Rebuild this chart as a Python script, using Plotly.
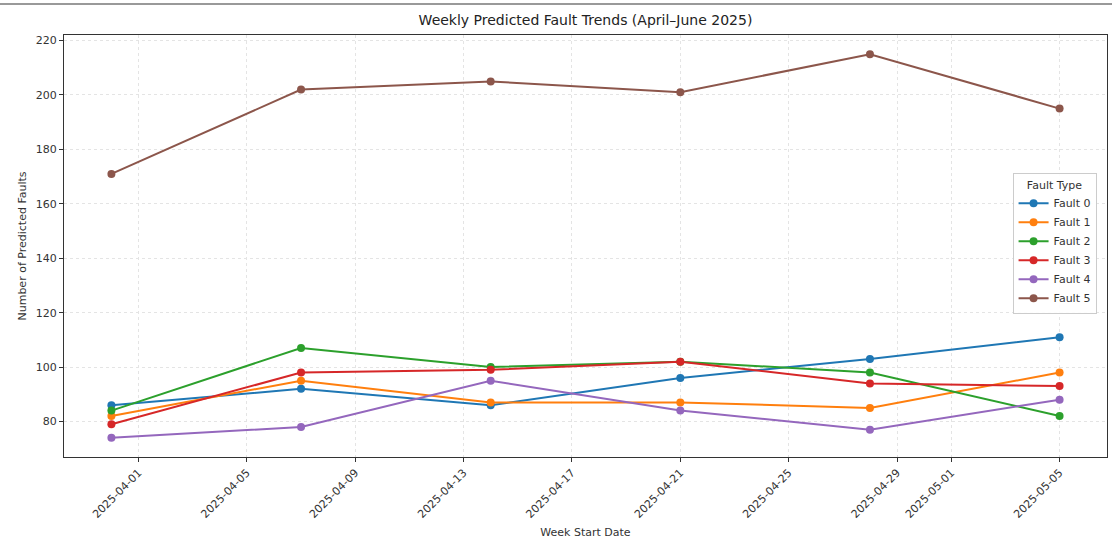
import plotly.graph_objects as go

weeks = ["2025-03-31", "2025-04-07", "2025-04-14", "2025-04-21", "2025-04-28", "2025-05-05"]
fault_names = ["Fault 0", "Fault 1", "Fault 2", "Fault 3", "Fault 4", "Fault 5"]
fault_0 = [86, 92, 86, 96, 103, 111]
fault_1 = [82, 95, 87, 87, 85, 98]
fault_2 = [84, 107, 100, 102, 98, 82]
fault_3 = [79, 98, 99, 102, 94, 93]
fault_4 = [74, 78, 95, 84, 77, 88]
fault_5 = [171, 202, 205, 201, 215, 195]
series = [fault_0, fault_1, fault_2, fault_3, fault_4, fault_5]
colors = ["#1f77b4", "#ff7f0e", "#2ca02c", "#d62728", "#9467bd", "#8c564b"]

tick_dates = ["2025-04-01", "2025-04-05", "2025-04-09", "2025-04-13", "2025-04-17",
              "2025-04-21", "2025-04-25", "2025-04-29", "2025-05-01", "2025-05-05"]
y_ticks = [80, 100, 120, 140, 160, 180, 200, 220]

fig = go.Figure()
for name, vals, c in zip(fault_names, series, colors):
    fig.add_trace(go.Scatter(x=weeks, y=vals, name=name, mode="lines+markers",
                             line=dict(color=c, width=2), marker=dict(color=c, size=8)))

font = "DejaVu Sans, sans-serif"
fig.update_layout(
    width=1112, height=553,
    margin=dict(l=64, r=5, t=35, b=96),
    paper_bgcolor="white", plot_bgcolor="white",
    font=dict(family=font, size=11, color="#333333"),
    title=dict(text="Weekly Predicted Fault Trends (April–June 2025)", x=585.5 / 1112,
               xanchor="center", y=1 - 20 / 553, yanchor="middle",
               font=dict(size=14, color="#222222")),
    legend=dict(title=dict(text="Fault Type", side="top center", font=dict(size=11)),
                x=0.99, xanchor="right", y=0.505, yanchor="middle",
                bgcolor="rgba(255,255,255,0.9)", bordercolor="#cccccc", borderwidth=1,
                font=dict(size=11), tracegroupgap=2),
    xaxis=dict(
        type="date", range=["2025-03-29 06:00", "2025-05-06 18:00"],
        tickvals=tick_dates, ticktext=tick_dates, tickangle=-45,
        showgrid=True, gridcolor="#e4e4e4", griddash="3px,3px", gridwidth=1,
        showline=True, linecolor="#333333", linewidth=1, mirror=True,
        ticks="outside", ticklen=4, tickcolor="#333333",
        title=dict(text="Week Start Date", font=dict(size=11), standoff=8),
        zeroline=False,
    ),
    yaxis=dict(
        range=[66.95, 222.05], tickvals=y_ticks,
        showgrid=True, gridcolor="#e4e4e4", griddash="3px,3px", gridwidth=1,
        showline=True, linecolor="#333333", linewidth=1, mirror=True,
        ticks="outside", ticklen=4, tickcolor="#333333",
        title=dict(text="Number of Predicted Faults", font=dict(size=11), standoff=6),
        zeroline=False,
    ),
)
fig.add_shape(type="line", xref="paper", yref="paper",
              x0=-64 / 1043, x1=1 + 5 / 1043, y0=1 + 31 / 422, y1=1 + 31 / 422,
              line=dict(color="#999999", width=2))
fig.write_html("out.html", config={"displayModeBar": False},
               post_script="document.body.style.margin='0';")
